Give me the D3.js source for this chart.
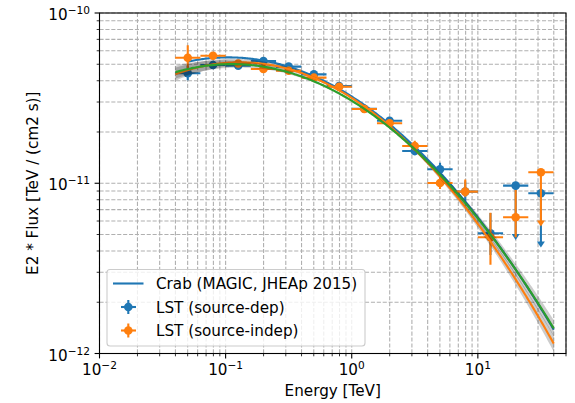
<!DOCTYPE html>
<html><head><meta charset="utf-8">
<script src="https://cdn.jsdelivr.net/npm/d3@7"></script>
<style>body{margin:0;background:#fff} text{font-family:"DejaVu Sans",sans-serif;fill:#000}</style>
</head><body><svg id="c" width="575" height="403"></svg>
<script>
// ---- data ----
const energy   = [0.0501, 0.0794, 0.1259, 0.1995, 0.3162, 0.5012, 0.7943, 1.259, 1.995, 3.162, 5.012, 7.943, 12.59, 19.95, 31.62];
const energyLo = [0.0398, 0.0631, 0.1000, 0.1585, 0.2512, 0.3981, 0.6310, 1.000, 1.585, 2.512, 3.981, 6.310, 10.00, 15.85, 25.12];
const energyHi = [0.0631, 0.1000, 0.1585, 0.2512, 0.3981, 0.6310, 1.0000, 1.585, 2.512, 3.981, 6.310, 10.00, 15.85, 25.12, 39.81];

const depFlux  = [4.43e-11, 4.95e-11, 4.91e-11, 5.22e-11, 4.84e-11, 4.36e-11, 3.72e-11, 2.74e-11, 2.33e-11, 1.548e-11, 1.208e-11, 8.93e-12, 5.09e-12, 9.68e-12, 8.73e-12];
const depErrHi = [0.45e-11, 0.22e-11, 0.15e-11, 0.15e-11, 0.13e-11, 0.12e-11, 0.10e-11, 0.08e-11, 0.07e-11, 0.10e-11, 0.11e-11, 0.13e-11, 0.16e-11, 0, 0];
const depErrLo = [0.40e-11, 0.20e-11, 0.15e-11, 0.15e-11, 0.13e-11, 0.12e-11, 0.10e-11, 0.08e-11, 0.07e-11, 0.09e-11, 0.09e-11, 0.11e-11, 0.13e-11, 0, 0];
const depUL    = [false, false, false, false, false, false, false, false, false, false, false, false, false, true, true];

const indepFlux  = [5.46e-11, 5.61e-11, 5.05e-11, 4.69e-11, 4.58e-11, 4.17e-11, 3.69e-11, 2.73e-11, 2.25e-11, 1.656e-11, 1.004e-11, 8.93e-12, 4.82e-12, 6.32e-12, 1.161e-11];
const indepErrHi = [1.00e-11, 0.30e-11, 0.16e-11, 0.15e-11, 0.14e-11, 0.13e-11, 0.11e-11, 0.09e-11, 0.08e-11, 0.12e-11, 0.09e-11, 0.16e-11, 0.19e-11, 0.28e-11, 0];
const indepErrLo = [0.70e-11, 0.28e-11, 0.16e-11, 0.15e-11, 0.14e-11, 0.13e-11, 0.11e-11, 0.09e-11, 0.08e-11, 0.11e-11, 0.08e-11, 0.06e-11, 0.15e-11, 0.15e-11, 0];
const indepUL    = [false, false, false, false, false, false, false, false, false, false, false, false, false, false, true];

// log-parabola models: E^2 dN/dE = amp * E^(2-alpha-beta*log10(E))
const magicModel = {amp: 3.23e-11, alpha: 2.47, beta: 0.24, emin: 0.05, emax: 40};
const fitDep     = {amp: 3.17e-11, alpha: 2.473, beta: 0.267, emin: 0.04, emax: 40, sA: 0.006, sB: 0.015, sC: 0.016};
const fitIndep   = {amp: 3.05e-11, alpha: 2.453, beta: 0.238, emin: 0.04, emax: 40, sA: 0.006, sB: 0.015, sC: 0.016};

const xMajor = [0.01, 0.1, 1, 10];
const xTickExp = ["\u22122", "\u22121", "0", "1"];
const yMajor = [1e-10, 1e-11, 1e-12];
const yTickExp = ["\u221210", "\u221211", "\u221212"];
const legendLabels = ["Crab (MAGIC, JHEAp 2015)", "LST (source-dep)", "LST (source-indep)"];

// ---- chart ----
const FS = 15.2, FSS = 10.6;
const C0 = "#1f77b4", C1 = "#ff7f0e", C2 = "#2ca02c";
const L = 99.5, R = 566, T = 13, B = 353.5;
const x = d3.scaleLog().domain([0.01, 50]).range([L, R]);
const y = d3.scaleLog().domain([1e-12, 1e-10]).range([B, T]);
const svg = d3.select("#c");
svg.append("defs").append("clipPath").attr("id", "clip")
  .append("rect").attr("x", L).attr("y", T).attr("width", R - L).attr("height", B - T);

// minor tick values
const xMinor = [];
[-2, -1, 0, 1].forEach(d => { for (let m = 2; m <= 9; m++) { const v = m * Math.pow(10, d); if (v <= 50) xMinor.push(v); } });
const yMinor = [];
[-12, -11].forEach(d => { for (let m = 2; m <= 9; m++) yMinor.push(m * Math.pow(10, d)); });

// grid
const grid = svg.append("g").attr("stroke", "#b0b0b0").attr("stroke-width", 1.1).attr("stroke-dasharray", "4.1,1.8");
xMajor.concat(xMinor).forEach(v => grid.append("line").attr("x1", x(v)).attr("x2", x(v)).attr("y1", T).attr("y2", B));
yMajor.concat(yMinor).forEach(v => grid.append("line").attr("y1", y(v)).attr("y2", y(v)).attr("x1", L).attr("x2", R));

const plot = svg.append("g").attr("clip-path", "url(#clip)");

function logE2F(E, p) {
  const l = Math.log10(E);
  return Math.log10(p.amp) + (2 - p.alpha) * l - p.beta * l * l;
}
function sampleE(p) {
  return d3.range(0, 301).map(i => Math.pow(10, Math.log10(p.emin) + (Math.log10(p.emax) - Math.log10(p.emin)) * i / 300));
}
const line = d3.line().x(d => x(d[0])).y(d => y(d[1]));

// MAGIC reference
plot.append("path").attr("d", line(sampleE(magicModel).map(E => [E, Math.pow(10, logE2F(E, magicModel))])))
  .attr("fill", "none").attr("stroke", C0).attr("stroke-width", 2.1);

function drawPoints(flux, hi, lo, ul, color) {
  const g = plot.append("g");
  flux.forEach((f, i) => {
    const cx = x(energy[i]), cy = y(f);
    g.append("line").attr("x1", x(energyLo[i])).attr("x2", x(energyHi[i])).attr("y1", cy).attr("y2", cy)
      .attr("stroke", color).attr("stroke-width", 2.1);
    if (ul[i]) {
      const yb = y(f * 0.5);
      g.append("line").attr("x1", cx).attr("x2", cx).attr("y1", cy).attr("y2", yb)
        .attr("stroke", color).attr("stroke-width", 2.1);
      g.append("path").attr("d", `M${cx - 4},${yb - 3}L${cx + 4},${yb - 3}L${cx},${yb + 3}Z`).attr("fill", color);
    } else {
      g.append("line").attr("x1", cx).attr("x2", cx).attr("y1", y(f + hi[i])).attr("y2", y(f - lo[i]))
        .attr("stroke", color).attr("stroke-width", 2.1);
    }
  });
  flux.forEach((f, i) => {
    g.append("circle").attr("cx", x(energy[i])).attr("cy", y(f)).attr("r", 4.3).attr("fill", color);
  });
}
drawPoints(depFlux, depErrHi, depErrLo, depUL, C0);
drawPoints(indepFlux, indepErrHi, indepErrLo, indepUL, C1);

function drawModel(p, color) {
  const Es = sampleE(p);
  const sig = E => { const l = Math.log10(E); return Math.sqrt(p.sA * p.sA + (p.sB * l) ** 2 + (p.sC * l * l) ** 2); };
  const area = d3.area().x(E => x(E))
    .y0(E => y(Math.pow(10, logE2F(E, p) - sig(E))))
    .y1(E => y(Math.pow(10, logE2F(E, p) + sig(E))));
  plot.append("path").attr("d", area(Es)).attr("fill", "#000").attr("fill-opacity", 0.2);
  plot.append("path").attr("d", line(Es.map(E => [E, Math.pow(10, logE2F(E, p))])))
    .attr("fill", "none").attr("stroke", color).attr("stroke-width", 2.1);
}
drawModel(fitDep, C1);
drawModel(fitIndep, C2);

// spines
svg.append("rect").attr("x", L).attr("y", T).attr("width", R - L).attr("height", B - T)
  .attr("fill", "none").attr("stroke", "#000").attr("stroke-width", 1.1);

// ticks
const tk = svg.append("g").attr("stroke", "#000");
xMajor.forEach(v => tk.append("line").attr("x1", x(v)).attr("x2", x(v)).attr("y1", B).attr("y2", B + 4.9).attr("stroke-width", 1.1));
xMinor.forEach(v => tk.append("line").attr("x1", x(v)).attr("x2", x(v)).attr("y1", B).attr("y2", B + 2.8).attr("stroke-width", 0.8));
yMajor.forEach(v => tk.append("line").attr("y1", y(v)).attr("y2", y(v)).attr("x1", L).attr("x2", L - 4.9).attr("stroke-width", 1.1));
yMinor.forEach(v => tk.append("line").attr("y1", y(v)).attr("y2", y(v)).attr("x1", L).attr("x2", L - 2.8).attr("stroke-width", 0.8));

// tick labels
xMajor.forEach((v, i) => {
  const t = svg.append("text").attr("x", x(v)).attr("y", 374.5).attr("text-anchor", "middle").attr("font-size", FS);
  t.append("tspan").text("10");
  t.append("tspan").attr("dy", -6).attr("font-size", FSS).text(xTickExp[i]);
});
yMajor.forEach((v, i) => {
  const t = svg.append("text").attr("x", 90).attr("y", y(v) + 7).attr("text-anchor", "end").attr("font-size", FS);
  t.append("tspan").text("10");
  t.append("tspan").attr("dy", -6).attr("font-size", FSS).text(yTickExp[i]);
});

// axis labels
svg.append("text").attr("x", (L + R) / 2).attr("y", 396).attr("text-anchor", "middle").attr("font-size", FS).text("Energy [TeV]");
svg.append("text").attr("transform", `translate(38,${(T + B) / 2}) rotate(-90)`).attr("text-anchor", "middle")
  .attr("font-size", FS).text("E2 * Flux [TeV / (cm2 s)]");

// legend
const lg = svg.append("g");
lg.append("rect").attr("x", 107).attr("y", 269.5).attr("width", 258).attr("height", 76.5).attr("rx", 3)
  .attr("fill", "#fff").attr("fill-opacity", 0.8).attr("stroke", "#cccccc").attr("stroke-width", 1.1);
const rowsY = [283.5, 307, 330.5];
lg.append("line").attr("x1", 113).attr("x2", 143.5).attr("y1", rowsY[0]).attr("y2", rowsY[0]).attr("stroke", C0).attr("stroke-width", 2.1);
[[C0, rowsY[1]], [C1, rowsY[2]]].forEach(([c, yy]) => {
  lg.append("line").attr("x1", 121).attr("x2", 136).attr("y1", yy).attr("y2", yy).attr("stroke", c).attr("stroke-width", 2.1);
  lg.append("line").attr("x1", 128.3).attr("x2", 128.3).attr("y1", yy - 7).attr("y2", yy + 7).attr("stroke", c).attr("stroke-width", 2.1);
  lg.append("circle").attr("cx", 128.3).attr("cy", yy).attr("r", 4.3).attr("fill", c);
});
legendLabels.forEach((s, i) => lg.append("text").attr("x", 156).attr("y", rowsY[i] + 5.5).attr("font-size", FS).text(s));
</script></body></html>
